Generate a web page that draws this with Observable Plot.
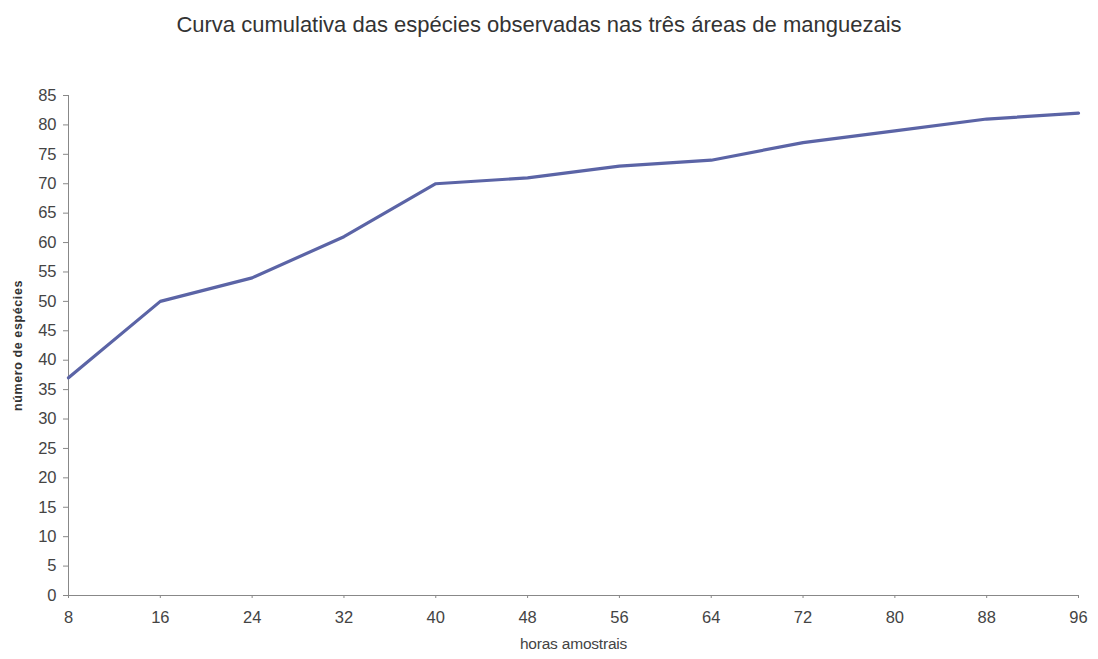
<!DOCTYPE html>
<html>
<head>
<meta charset="utf-8">
<script src="https://cdn.jsdelivr.net/npm/d3@7"></script>
<script src="https://cdn.jsdelivr.net/npm/@observablehq/plot@0.6"></script>
<style>
  html, body { margin: 0; padding: 0; background: #fff; }
  #title { height: 50px; box-sizing: border-box; padding-top: 12px; padding-right: 20px; text-align: center;
           font-family: "Liberation Sans", Arial, sans-serif; font-size: 22px; color: #333; line-height: 1.15; }
  #chart svg { display: block; }
  #chart g[aria-label$="tick label"], #chart g[aria-label$="tick label"] text { font-size: 16.5px; fill: #444; }
  #chart g[aria-label="y-axis label"], #chart g[aria-label="y-axis label"] text { font-size: 12.5px; font-weight: bold; fill: #333; letter-spacing: 0.6px; }
  #chart g[aria-label="x-axis label"], #chart g[aria-label="x-axis label"] text { font-size: 15.5px; fill: #444; letter-spacing: -0.2px; }
</style>
</head>
<body>
<div id="title">Curva cumulativa das espécies observadas nas três áreas de manguezais</div>
<div id="chart"></div>
<script>
const hours = [8, 16, 24, 32, 40, 48, 56, 64, 72, 80, 88, 96];
const species = [37, 50, 54, 61, 70, 71, 73, 74, 77, 79, 81, 82];
const yTicks = [0, 5, 10, 15, 20, 25, 30, 35, 40, 45, 50, 55, 60, 65, 70, 75, 80, 85];

const data = hours.map((h, i) => ({h, s: species[i]}));

const chart = Plot.plot({
  width: 1098,
  height: 609,
  marginTop: 45,
  marginBottom: 64,
  marginLeft: 68,
  marginRight: 20,
  style: {fontFamily: "'Liberation Sans', Arial, sans-serif", fontSize: "14px", color: "#444", background: "#fff"},
  x: {domain: [8, 96]},
  y: {domain: [0, 85]},
  marks: [
    Plot.axisY({ticks: yTicks, tickSize: 5, tickPadding: 7, tickFormat: d => d, stroke: "#888", label: null}),
    Plot.axisY({ticks: [], label: "número de espécies", labelAnchor: "center", labelArrow: "none", labelOffset: 55}),
    Plot.axisX({ticks: hours, tickSize: 3, tickPadding: 13, tickFormat: d => d, stroke: "#888", label: null}),
    Plot.axisX({ticks: [], label: "horas amostrais", labelAnchor: "center", labelArrow: "none", labelOffset: 53}),
    Plot.ruleX([8], {stroke: "#888"}),
    Plot.ruleY([0], {stroke: "#888"}),
    Plot.line(data, {x: "h", y: "s", stroke: "#5b64a6", strokeWidth: 3.2})
  ]
});
document.getElementById("chart").appendChild(chart);
</script>
</body>
</html>
